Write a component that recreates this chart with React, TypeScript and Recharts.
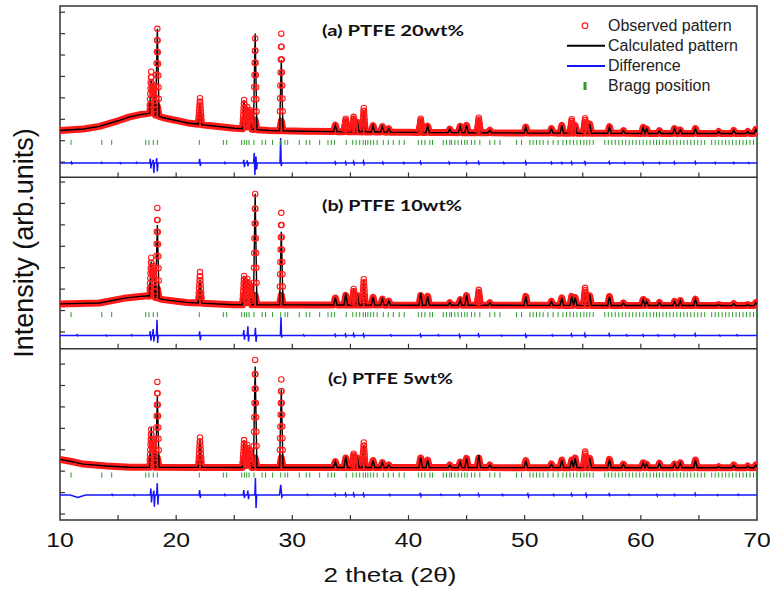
import React from 'react';
import { ComposedChart, Line, Scatter, XAxis, YAxis, ReferenceLine, ReferenceArea } from 'recharts';

// x axis
const xTicks = [10, 20, 30, 40, 50, 60, 70];
const minorTicks = [15, 20, 25, 30, 35, 40, 45, 50, 55, 60, 65];

// reflection positions (2 theta) shared by the three samples
const peakPos = [
  17.85, 18.05, 18.38, 22.05, 25.85, 26.12, 26.35, 26.8, 29.05, 33.7, 34.6, 35.28, 35.6, 36.15,
  36.95, 37.75, 38.3, 41.05, 41.65, 43.55, 44.45, 45.0, 46.05, 47.0, 50.1, 52.3, 53.2, 54.05,
  54.35, 55.2, 55.6, 57.3, 58.5, 60.2, 60.5, 61.6, 62.9, 63.4, 64.7, 66.7, 68.0, 69.2, 69.9,
];

// calculated peak heights above background (arb. counts, 800 per panel)
const peak20 = [
  163, 135, 406, 98, 135, 103, 89, 448, 329, 30, 61, 70, 47, 100, 30, 26, 16, 58, 30, 16, 30, 34,
  70, 12, 28, 21, 36, 59, 36, 51, 44, 31, 13, 28, 21, 13, 23, 16, 23, 9, 14, 9, 19,
];
const peak10 = [
  163, 145, 341, 107, 135, 121, 93, 518, 341, 33, 56, 75, 49, 119, 37, 28, 19, 56, 42, 12, 26, 49,
  72, 12, 42, 19, 35, 42, 37, 65, 51, 42, 12, 28, 19, 14, 19, 23, 30, 5, 9, 5, 14,
];
const peak5 = [
  187, 126, 332, 128, 128, 105, 79, 472, 364, 28, 51, 65, 47, 105, 33, 23, 12, 47, 35, 12, 26, 43,
  59, 12, 33, 17, 36, 36, 45, 59, 44, 39, 17, 23, 17, 21, 17, 23, 36, 5, 13, 8, 13,
];

// observed maxima that stand off the fit [2theta, height]
const obs20 = [[17.85, 196], [22.05, 123], [26.8, 425], [29.05, 453], [36.15, 112], [41.05, 64], [54.05, 65], [55.2, 70]];
const obs10 = [[17.85, 181], [18.38, 421], [22.05, 145], [29.05, 430], [36.15, 121], [55.2, 82]];
const obs5 = [[17.85, 177], [18.38, 399], [22.05, 140], [26.8, 502], [29.05, 411], [36.15, 117], [55.2, 75]];

// background
const bgX20 = [10, 12, 13.4, 15, 16, 17, 17.75, 18.9, 21, 22, 25, 28, 31, 40, 50, 60, 70];
const bg20 = [219, 226, 238, 264, 282, 294, 299, 278, 254, 247, 229, 219, 215, 210, 207, 205, 205];
const bgX10 = [10, 13.4, 15.7, 16.9, 17.6, 18.9, 20.9, 24.9, 40, 70];
const bg10 = [209, 213, 237, 244, 247, 229, 216, 205, 203, 201];
const bgX5 = [10, 11, 12, 14, 16, 30, 70];
const bg5 = [283, 273, 261, 252, 246, 245, 244];

// difference curve excursions [2theta, up, down, half width]
const diff20 = [
  [11.0, 4, 4], [13.6, 3, 2], [15.2, 2, 3], [16.6, 3, 2], [17.8, 20, 25], [18.05, 15, 47], [18.35, 23, 40],
  [22.05, 19, 14], [24.2, 3, 3], [25.85, 15, 20], [26.15, 12, 15], [26.75, 47, 56], [26.9, 30, 30],
  [29.02, 117, 14], [31.2, 3, 2], [33.7, 5, 5], [34.6, 5, 6], [35.3, 7, 6], [36.15, 8, 6], [37.8, 4, 4],
  [39.6, 3, 3], [41.05, 6, 5], [43.5, 4, 4], [45.0, 5, 4], [46.05, 6, 5], [48.2, 3, 3], [50.1, 7, 6],
  [52.3, 4, 4], [53.2, 3, 4], [54.05, 5, 5], [55.2, 10, 6], [57.3, 6, 4], [58.6, 3, 3], [60.2, 4, 5],
  [61.6, 3, 3], [62.9, 5, 4], [64.7, 6, 4], [66.4, 3, 3], [68.0, 3, 3], [69.3, 2, 3],
];
const diff10 = [
  [11.5, 3, 2], [14.0, 2, 3], [16.2, 3, 2], [17.8, 20, 25], [18.05, 30, 28], [18.38, 73, 35],
  [22.05, 19, 23], [25.85, 25, 20], [26.2, 42, 28], [26.85, 35, 30], [29.05, 84, 10], [31.0, 3, 3],
  [33.7, 5, 4], [34.6, 6, 5], [35.3, 7, 5], [36.15, 6, 6], [38.5, 3, 3], [41.05, 5, 6], [42.6, 3, 2],
  [44.4, 4, 8], [46.05, 6, 5], [48.0, 2, 3], [50.1, 5, 12], [52.4, 3, 3], [54.05, 6, 4], [55.2, 8, 10],
  [57.3, 7, 3], [58.8, 3, 3], [60.2, 4, 4], [61.5, 3, 3], [62.9, 3, 5], [64.7, 7, 3], [66.8, 2, 3],
  [68.3, 3, 2],
];
const diff5 = [
  [11.2, 0, 12, 1.0], [14.5, 3, 2], [16.4, 2, 3], [17.85, 30, 35], [18.1, 20, 55], [18.4, 55, 45],
  [22.05, 23, 14], [24.2, 3, 3], [25.85, 23, 14], [26.2, 20, 20], [26.85, 79, 61], [29.05, 47, 10, 0.15],
  [31.3, 3, 2], [33.7, 5, 4], [34.6, 6, 5], [35.3, 7, 6], [36.15, 6, 6], [38.4, 3, 3], [41.05, 10, 6],
  [42.8, 3, 2], [44.4, 4, 5], [46.05, 5, 5], [48.1, 3, 3], [50.3, 5, 8], [52.5, 3, 3], [54.05, 5, 4],
  [55.3, 6, 7], [57.3, 5, 3], [59.0, 3, 2], [61.4, 3, 5], [62.9, 3, 3], [64.7, 7, 3], [66.6, 2, 3],
  [68.4, 3, 2],
];

// Bragg reflection markers
const braggPos = [
  10.95, 13.6, 14.45, 17.38, 17.66, 18.03, 18.38, 21.99, 24.06, 24.35, 25.64, 25.87, 26.07, 26.27,
  26.7, 27.4, 27.7, 28.3, 29.0, 29.37, 29.6, 30.6, 31.2, 31.5, 32.35, 33.07, 33.36, 33.64, 34.64,
  35.2, 35.5, 35.8, 36.1, 36.3, 36.5, 36.75, 37.0, 37.3, 37.83, 38.26, 38.69, 39.2, 39.63, 40.84,
  41.13, 41.41, 41.84, 42.07, 42.99, 43.27, 43.55, 43.7, 43.99, 44.27, 44.56, 44.84, 45.05, 45.42,
  45.71, 46.14, 47.0, 47.43, 47.87, 49.3, 49.73, 50.45, 50.73, 51.02, 51.3, 51.59, 52.0, 52.45,
  52.88, 53.3, 53.6, 53.9, 54.2, 54.5, 54.8, 55.1, 55.35, 55.6, 55.9, 56.9, 57.2, 57.5, 57.8, 58.1,
  58.4, 58.7, 59.0, 59.3, 59.6, 59.9, 60.2, 60.5, 60.8, 61.1, 61.35, 61.6, 61.9, 62.2, 62.5, 62.8,
  63.1, 63.4, 63.7, 64.0, 64.3, 64.6, 64.9, 65.2, 65.5, 66.1, 66.4, 66.7, 67.0, 67.3, 67.6, 67.9,
  68.2, 68.5, 68.8, 69.1, 69.4, 69.7, 69.95,
];

const panels = [
  { base: 1600, bgX: bgX20, bg: bg20, peaks: peak20, obs: obs20, diff: diff20, diffLevel: 67, braggLevel: 163, tick0: 71 },
  { base: 800, bgX: bgX10, bg: bg10, peaks: peak10, obs: obs10, diff: diff10, diffLevel: 62, braggLevel: 159, tick0: 78 },
  { base: 0, bgX: bgX5, bg: bg5, peaks: peak5, obs: obs5, diff: diff5, diffLevel: 117, braggLevel: 210, tick0: 28 },
];

const W = 0.15;
const BAND_CAP = 45; // thick observed band follows small peaks only; tall ones show as circles
const FLANK = [-0.12, -0.1, -0.08, -0.06, -0.04, -0.02, 0, 0.02, 0.04, 0.06, 0.08, 0.1, 0.12];

function interp(xs: number[], ys: number[], x: number) {
  if (x <= xs[0]) return ys[0];
  for (let i = 1; i < xs.length; i++) {
    if (x <= xs[i]) {
      const t = (x - xs[i - 1]) / (xs[i] - xs[i - 1]);
      return ys[i - 1] + t * (ys[i] - ys[i - 1]);
    }
  }
  return ys[ys.length - 1];
}

function peakSum(x: number, heights: number[]) {
  let s = 0;
  peakPos.forEach((p, i) => {
    const d = Math.abs(x - p);
    if (d < W) s += heights[i] * (1 - d / W);
  });
  return s;
}

function buildPanel(p: any) {
  const xs = new Set<number>(p.bgX);
  peakPos.forEach((c) => {
    xs.add(+(c - W).toFixed(3));
    xs.add(c);
    xs.add(+(c + W).toFixed(3));
  });
  const grid = [...xs].filter((x) => x >= 10 && x <= 70).sort((a, b) => a - b);
  const capped = p.peaks.map((h: number) => Math.min(h, BAND_CAP));
  const calc = grid.map((x) => ({ x, y: p.base + interp(p.bgX, p.bg, x) + peakSum(x, p.peaks) }));
  const band = grid.map((x) => ({ x, y: p.base + interp(p.bgX, p.bg, x) + peakSum(x, capped) }));

  const obsH = p.peaks.map((h: number, i: number) => {
    const o = p.obs.find((e: number[]) => e[0] === peakPos[i]);
    return o ? o[1] : h;
  });
  const obs: { x: number; y: number }[] = [];
  peakPos.forEach((c, i) => {
    if (obsH[i] < 60) return;
    FLANK.forEach((f) => {
      const x = +(c + f).toFixed(3);
      if (x >= 10 && x <= 70) obs.push({ x, y: p.base + interp(p.bgX, p.bg, x) + peakSum(x, obsH) });
    });
  });

  const lvl = p.base + p.diffLevel;
  const diff = [{ x: 10, y: lvl }, { x: 70, y: lvl }];
  p.diff.forEach(([c, up, down, w = 0.08]: number[]) => {
    diff.push({ x: c - w, y: lvl }, { x: c - w / 3, y: lvl + up }, { x: c + w / 3, y: lvl - down }, { x: c + w, y: lvl });
  });
  diff.sort((a, b) => a.x - b.x);

  const bragg = braggPos.map((x) => ({ x, y: p.base + p.braggLevel }));
  return { calc, band, obs, diff, bragg };
}

const built = panels.map(buildPanel);
const allObs = built.flatMap((b) => b.obs);
const allBragg = built.flatMap((b) => b.bragg);

const SANS = '"Liberation Sans", Arial, sans-serif';
const RED = '#ff1a1a';

const XTick = (props: any) => (
  <text
    transform={`translate(${props.x},547) scale(1.18,1)`}
    textAnchor="middle"
    fontFamily={SANS}
    fontSize={21}
    fill="#111"
  >
    {props.payload.value}
  </text>
);

const ObsDot = (props: any) => (
  <circle cx={props.cx} cy={props.cy} r={2.7} fill="none" stroke={RED} strokeWidth={1.1} />
);

const BraggMark = (props: any) => (
  <line x1={props.cx} x2={props.cx} y1={props.cy - 2.5} y2={props.cy + 2.5} stroke="#2a9d2a" strokeWidth={1} />
);

export default function App() {
  return (
    <div style={{ position: 'absolute', left: 0, top: 0, width: 770, height: 595, background: '#fff' }}>
      <ComposedChart width={770} height={595} margin={{ top: 6, right: 13, bottom: 35, left: 60 }}>
        <XAxis
          type="number"
          dataKey="x"
          domain={[10, 70]}
          ticks={xTicks}
          interval={0}
          tickLine={false}
          axisLine={false}
          height={40}
          tick={<XTick />}
          allowDataOverflow
        />
        <YAxis type="number" dataKey="y" domain={[0, 2400]} hide allowDataOverflow />

        {built.map((b, i) => (
          <Line key={`band${i}`} data={b.band} dataKey="y" type="linear" stroke={RED} strokeWidth={7}
            strokeLinejoin="round" dot={false} isAnimationActive={false} />
        ))}
        <Scatter data={allObs} dataKey="y" shape={<ObsDot />} isAnimationActive={false} />
        {built.map((b, i) => (
          <Line key={`calc${i}`} data={b.calc} dataKey="y" type="linear" stroke="#000" strokeWidth={1.4}
            dot={false} isAnimationActive={false} />
        ))}
        {built.map((b, i) => (
          <Line key={`diff${i}`} data={b.diff} dataKey="y" type="linear" stroke="#1414ff" strokeWidth={1.5}
            dot={false} isAnimationActive={false} />
        ))}
        <Scatter data={allBragg} dataKey="y" shape={<BraggMark />} isAnimationActive={false} />

        {panels.map((p) =>
          minorTicks.map((m) => (
            <ReferenceLine key={`mx${p.base}-${m}`} segment={[{ x: m, y: p.base }, { x: m, y: p.base + 23 }]}
              stroke="#333" strokeWidth={1.2} />
          ))
        )}
        {panels.map((p) =>
          [0, 1, 2, 3, 4, 5, 6, 7].map((k) => (
            <ReferenceLine key={`my${p.base}-${k}`}
              segment={[{ x: 10, y: p.base + p.tick0 + k * 100 }, { x: 10.43, y: p.base + p.tick0 + k * 100 }]}
              stroke="#333" strokeWidth={1.2} />
          ))
        )}
        <ReferenceLine y={800} stroke="#333" strokeWidth={1.5} />
        <ReferenceLine y={1600} stroke="#333" strokeWidth={1.5} />
        <ReferenceArea x1={10} x2={70} y1={0} y2={2400} fill="none" stroke="#333" strokeWidth={1.5} />
      </ComposedChart>

      <svg width={770} height={595} style={{ position: 'absolute', left: 0, top: 0, pointerEvents: 'none' }}>
        <text transform="translate(33,243) rotate(-90)" textAnchor="middle" fontFamily={SANS} fontSize={27} fill="#111">
          Intensity (arb.units)
        </text>
        <text x={390} y={582} textAnchor="middle" fontFamily={SANS} fontSize={21} fill="#111"
          textLength={133} lengthAdjust="spacingAndGlyphs">
          2 theta (2θ)
        </text>

        <text x={322} y={35.5} fontFamily="Lato, sans-serif" fontWeight="bold" fontSize={15} fill="#111"
          textLength={142} lengthAdjust="spacingAndGlyphs">
          (a)  PTFE 20wt%
        </text>
        <text x={322} y={210.5} fontFamily="Lato, sans-serif" fontWeight="bold" fontSize={15} fill="#111"
          textLength={140} lengthAdjust="spacingAndGlyphs">
          (b) PTFE 10wt%
        </text>
        <text x={328} y={383.5} fontFamily="Lato, sans-serif" fontWeight="bold" fontSize={15} fill="#111"
          textLength={125} lengthAdjust="spacingAndGlyphs">
          (c) PTFE 5wt%
        </text>

        <circle cx={585} cy={25.7} r={2.8} fill="none" stroke={RED} strokeWidth={1.2} />
        <line x1={567} x2={605} y1={45.7} y2={45.7} stroke="#000" strokeWidth={2} />
        <line x1={567} x2={605} y1={66} y2={66} stroke="#1414ff" strokeWidth={2} />
        <rect x={583.5} y={82} width={3} height={8} fill="#2a9d2a" />
        <g fontFamily={SANS} fontSize={16} fill="#222">
          <text x={608} y={31}>Observed pattern</text>
          <text x={608} y={51}>Calculated pattern</text>
          <text x={608} y={71}>Difference</text>
          <text x={608} y={91}>Bragg position</text>
        </g>
      </svg>
    </div>
  );
}
